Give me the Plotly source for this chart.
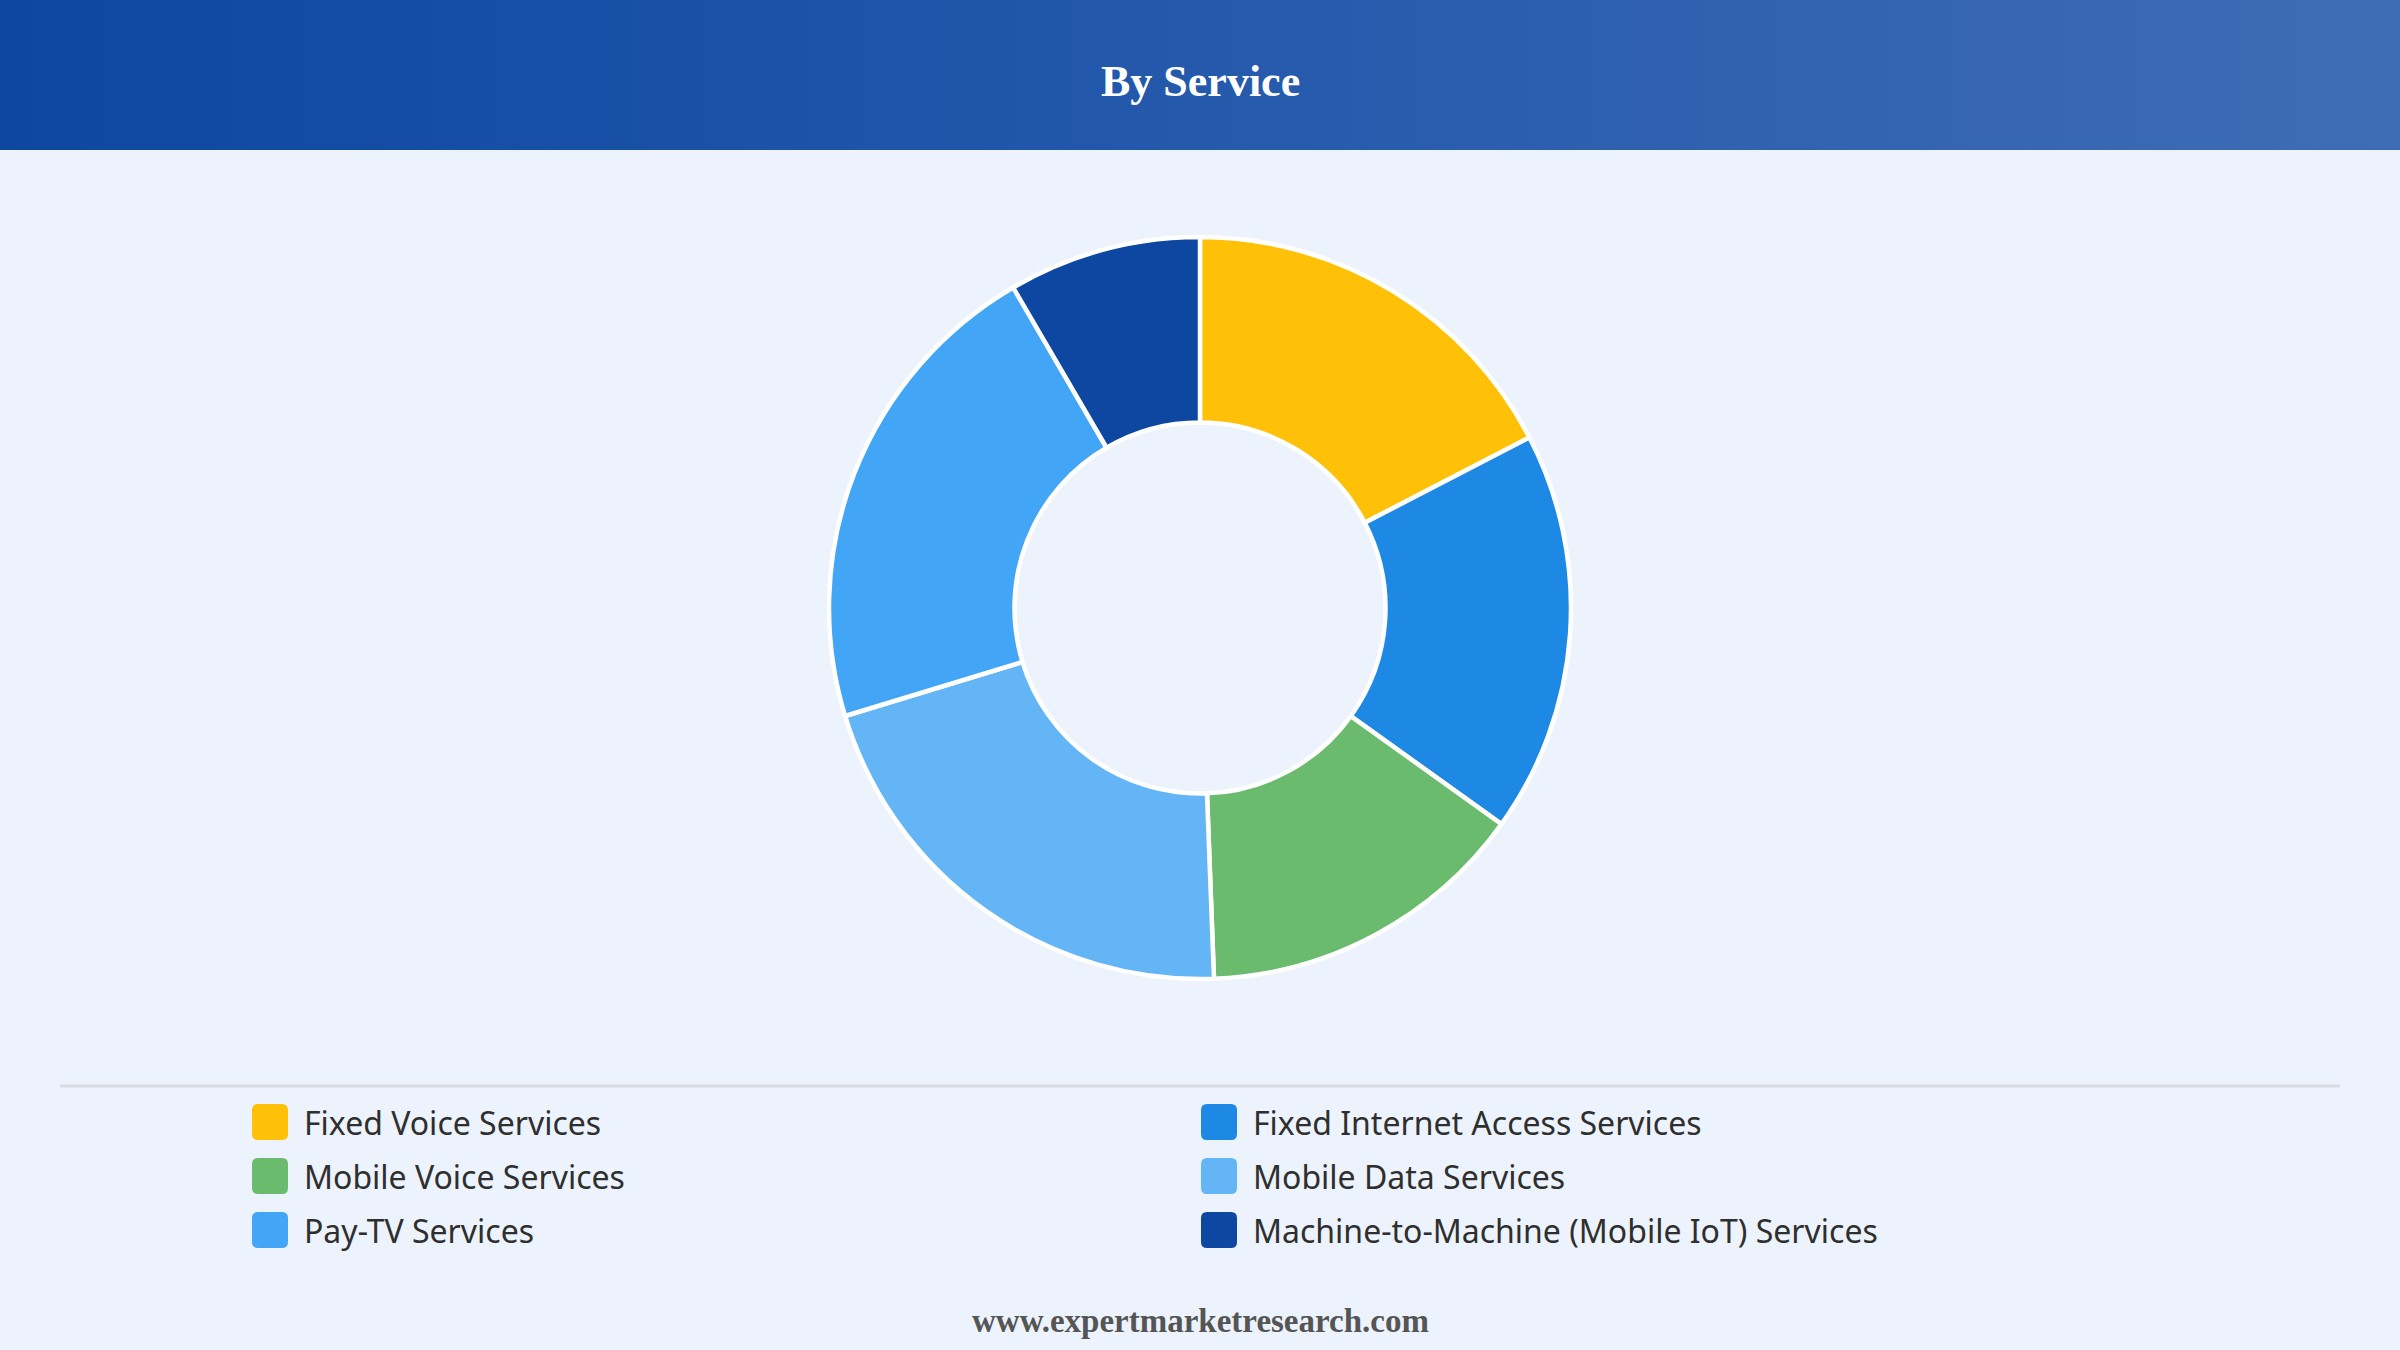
import plotly.graph_objects as go

W, H = 2400, 1350

labels = [
    "Fixed Voice Services",
    "Fixed Internet Access Services",
    "Mobile Voice Services",
    "Mobile Data Services",
    "Pay-TV Services",
    "Machine-to-Machine (Mobile IoT) Services",
]
shares = [17.4, 17.5, 14.5, 20.9, 21.3, 8.4]
colors = ["#FFC107", "#1E88E5", "#6ABB6D", "#64B5F6", "#42A5F5", "#0D47A1"]

title_text = "By Service"
footer_text = "www.expertmarketresearch.com"

BG = "#ECF3FC"
HEADER_H = 150


def fx(x):
    return x / W


def fy(y):
    return 1 - y / H


def rounded_square(x0, y0, s, r):
    # pixel coords (top-left origin) -> svg path in paper units
    x1, y1 = x0 + s, y0 + s
    p = [
        f"M{fx(x0 + r)},{fy(y0)}",
        f"L{fx(x1 - r)},{fy(y0)}",
        f"Q{fx(x1)},{fy(y0)} {fx(x1)},{fy(y0 + r)}",
        f"L{fx(x1)},{fy(y1 - r)}",
        f"Q{fx(x1)},{fy(y1)} {fx(x1 - r)},{fy(y1)}",
        f"L{fx(x0 + r)},{fy(y1)}",
        f"Q{fx(x0)},{fy(y1)} {fx(x0)},{fy(y1 - r)}",
        f"L{fx(x0)},{fy(y0 + r)}",
        f"Q{fx(x0)},{fy(y0)} {fx(x0 + r)},{fy(y0)}",
        "Z",
    ]
    return " ".join(p)


# header band with horizontal gradient
header = go.Scatter(
    x=[0, 1, 1, 0, 0], y=[0, 0, 1, 1, 0],
    mode="lines", fill="toself",
    line=dict(width=0, color="rgba(0,0,0,0)"),
    fillgradient=dict(type="horizontal",
                      colorscale=[[0, "#0D47A1"], [0.5, "#2459AC"], [1, "#3F6DB5"]]),
    hoverinfo="skip", showlegend=False,
)

# donut geometry: centre (1200, 608), radius 371
cx, cy, rad = 1200, 608, 371
donut = go.Pie(
    labels=labels, values=shares,
    marker=dict(colors=colors, line=dict(color="white", width=4.5)),
    hole=0.5, sort=False, direction="clockwise", rotation=0,
    textinfo="none", showlegend=False,
    domain=dict(x=[fx(cx - rad), fx(cx + rad)], y=[fy(cy + rad), fy(cy - rad)]),
)

fig = go.Figure(data=[header, donut])

shapes = [
    dict(type="line", xref="paper", yref="paper",
         x0=fx(60), x1=fx(2340), y0=fy(1086), y1=fy(1086),
         line=dict(color="#D9DDE3", width=3)),
]
annotations = [
    dict(text=f"<b>{title_text}</b>", x=0.5, y=fy(81), xref="paper", yref="paper",
         showarrow=False, xanchor="center", yanchor="middle",
         font=dict(family="Liberation Serif, Times New Roman, serif", size=44, color="white")),
    dict(text=f"<b>{footer_text}</b>", x=0.5, y=fy(1321), xref="paper", yref="paper",
         showarrow=False, xanchor="center", yanchor="middle",
         font=dict(family="Liberation Serif, Times New Roman, serif", size=33, color="#555555")),
]

# manual two-column legend
col_x = [252, 1201]
row_y = [1122, 1176, 1230]
for i, (lab, col) in enumerate(zip(labels, colors)):
    mx = col_x[i % 2]
    my = row_y[i // 2]
    shapes.append(dict(type="path", xref="paper", yref="paper",
                       path=rounded_square(mx, my - 18, 36, 6),
                       fillcolor=col, line=dict(width=0)))
    annotations.append(dict(text=lab, x=fx(mx + 50), y=fy(my), xref="paper", yref="paper",
                            showarrow=False, xanchor="left", yanchor="middle",
                            font=dict(family="Noto Sans, Open Sans, sans-serif",
                                      size=32, color="#2F2F2F")))

fig.update_layout(
    width=W, height=H,
    margin=dict(l=0, r=0, t=0, b=0),
    paper_bgcolor=BG, plot_bgcolor="rgba(0,0,0,0)",
    xaxis=dict(domain=[0, 1], range=[0, 1], visible=False, fixedrange=True),
    yaxis=dict(domain=[1 - HEADER_H / H, 1], range=[0, 1], visible=False, fixedrange=True),
    shapes=shapes, annotations=annotations,
    showlegend=False,
)

fig.write_html("out.html", config={"displayModeBar": False},
               post_script="document.body.style.margin='0';")
